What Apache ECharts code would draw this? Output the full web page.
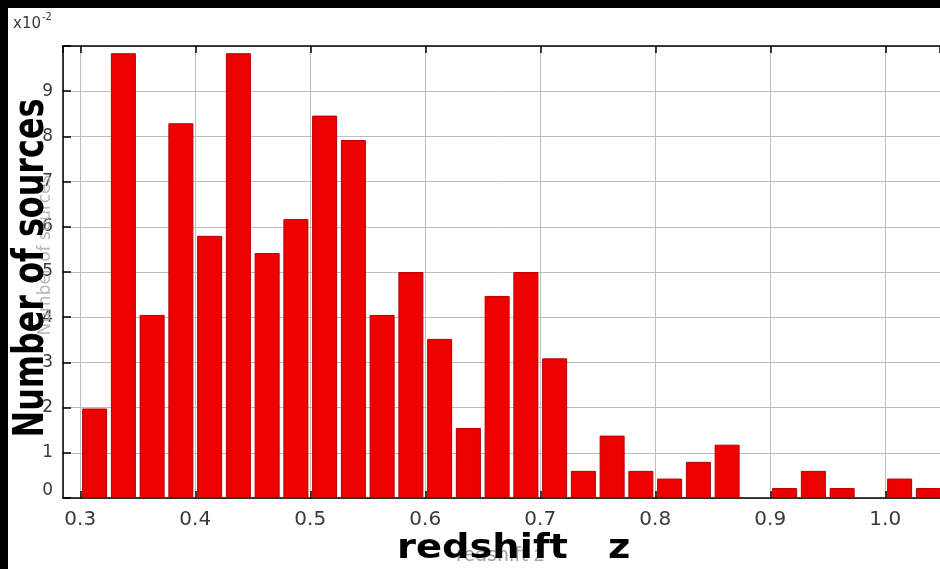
<!DOCTYPE html>
<html>
<head>
<meta charset="utf-8">
<script src="https://cdn.jsdelivr.net/npm/echarts@6/dist/echarts.min.js"></script>
<style>
  html, body { margin: 0; padding: 0; background: #000; }
  #chart { width: 940px; height: 569px; }
</style>
</head>
<body>
<div id="chart"></div>
<script>
// Redshift histogram: fraction of sources per 0.025-wide bin (in units of 10^-2)
const binStart = [0.300, 0.325, 0.350, 0.375, 0.400, 0.425, 0.450, 0.475, 0.500, 0.525,
                  0.550, 0.575, 0.600, 0.625, 0.650, 0.675, 0.700, 0.725, 0.750, 0.775,
                  0.800, 0.825, 0.850, 0.875, 0.900, 0.925, 0.950, 0.975, 1.000, 1.025];
const binWidth = 0.025;
const share = [1.98, 9.84, 4.05, 8.29, 5.80, 9.84, 5.42, 6.17, 8.46, 7.92,
               4.05, 5.00, 3.52, 1.55, 4.47, 5.00, 3.09, 0.60, 1.38, 0.60,
               0.43, 0.80, 1.18, 0.00, 0.22, 0.60, 0.22, 0.00, 0.43, 0.22];
const yTicks = [0, 1, 2, 3, 4, 5, 6, 7, 8, 9];
const xTicks = [0.3, 0.4, 0.5, 0.6, 0.7, 0.8, 0.9, 1.0];

const chart = echarts.init(document.getElementById('chart'), null, { renderer: 'canvas' });

const labelFont = 'DejaVu Sans';
const gridColor = '#bdbdbd';
const xMin = 0.285, xMax = 1.0476;

const isXTick = v => xTicks.some(t => Math.abs(t - v) < 1e-6);

const frameAxis = {
  axisLine: { show: true, onZero: false, lineStyle: { color: '#000', width: 1.5 } },
  axisTick: { show: true, inside: true, length: 7, lineStyle: { color: '#000', width: 1.5 } }
};

chart.setOption({
  backgroundColor: '#000',
  animation: false,
  grid: { left: 63, top: 46, width: 877, height: 452, containLabel: false },
  xAxis: [
    Object.assign({
      type: 'value', position: 'bottom', min: xMin, max: xMax, splitNumber: 8,
      axisLabel: {
        margin: 12, color: '#3a3a3a', fontFamily: labelFont, fontSize: 20,
        showMinLabel: false, showMaxLabel: false,
        formatter: v => isXTick(v) ? v.toFixed(1) : ''
      },
      splitLine: { show: true, lineStyle: { color: gridColor, width: 1 } }
    }, frameAxis),
    Object.assign({
      type: 'value', position: 'top', min: xMin, max: xMax, splitNumber: 8,
      axisLabel: { show: false },
      splitLine: { show: false }
    }, frameAxis)
  ],
  yAxis: [
    Object.assign({
      type: 'value', min: 0, max: 10, interval: 1,
      axisLabel: {
        margin: 10, color: '#3a3a3a', fontFamily: labelFont, fontSize: 17,
        formatter: v => yTicks.indexOf(v) < 0 ? '' : (v === 0 ? '{zero|0}' : String(v)),
        rich: { zero: { fontFamily: labelFont, fontSize: 17, color: '#3a3a3a', padding: [0, 0, 14, 0] } }
      },
      splitLine: { show: true, lineStyle: { color: gridColor, width: 1 } }
    }, frameAxis, { axisTick: { show: true, inside: true, length: 8, lineStyle: { color: '#000', width: 1.5 } } })
  ],
  series: [
    {
      type: 'bar',
      xAxisIndex: 0,
      yAxisIndex: 0,
      barWidth: 25,
      data: binStart.map((s, i) => ({
        value: [s + binWidth / 2, share[i]],
        // empty bins get no outline so nothing shows on the axis
        itemStyle: share[i] === 0 ? { borderWidth: 0 } : undefined
      })),
      itemStyle: { color: '#ee0000', borderColor: '#b30000', borderWidth: 1 },
      z: 3
    }
  ],
  graphic: [
    // white page panel inside the black frame
    { type: 'rect', left: 8, top: 8, z: -100, silent: true,
      shape: { width: 932, height: 561 }, style: { fill: '#fff' } },
    // axis exponent
    { type: 'text', left: 13, top: 12, z: 100,
      style: { text: '{b|x10}{s|-2}', rich: {
        b: { fontFamily: labelFont, fontSize: 15, fill: '#3a3a3a', padding: [8, 0, 0, 0] },
        s: { fontFamily: labelFont, fontSize: 10, fill: '#3a3a3a', padding: [0, 0, 6, 1] }
      } } },
    // faint original axis titles
    { type: 'text', x: 500, y: 556, z: 90,
      style: { text: 'redshift z', font: '19px DejaVu Sans', fill: '#a0a0a0',
               align: 'center', verticalAlign: 'middle' } },
    { type: 'text', x: 46, y: 255, rotation: Math.PI / 2, z: 90,
      style: { text: 'Number of sources', font: '17px DejaVu Sans', fill: '#b8b8b8',
               align: 'center', verticalAlign: 'middle' } },
    // bold axis titles
    { type: 'text', x: 32, y: 268, rotation: Math.PI / 2, scaleX: 0.74, z: 110,
      style: { text: 'Number of sources', font: 'bold 43px DejaVu Sans', fill: '#000',
               align: 'center', verticalAlign: 'middle' } },
    { type: 'text', x: 397, y: 549, scaleX: 1.13, z: 110,
      style: { text: 'redshift   z', font: 'bold 34px DejaVu Sans', fill: '#000',
               align: 'left', verticalAlign: 'middle' } }
  ]
});
</script>
</body>
</html>
